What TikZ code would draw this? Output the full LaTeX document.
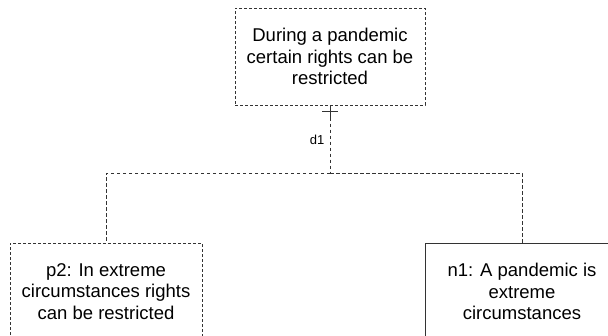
\documentclass[tikz,border=0pt]{standalone}
\usepackage{fontspec}
\setmainfont{Liberation Sans}
\begin{document}
\begin{tikzpicture}[x=1pt, y=-1pt,
  box/.style={draw=black!80, line width=1pt, align=center, minimum height=97pt, inner sep=0pt,
    font=\fontsize{18.5}{21.5}\selectfont},
  dotbox/.style={box, dash pattern=on 3pt off 2pt},
  link/.style={draw=black!80, line width=1pt, dash pattern=on 3.5pt off 2.5pt}]
 \clip (0,0) rectangle (608,335);

 \node[dotbox, minimum width=190pt] (claim) at (330,56.5) {During a pandemic\\certain rights can be\\restricted};
 \node[dotbox, minimum width=192pt] (p2) at (106,291.5) {p2: In extreme\\circumstances rights\\can be restricted};
 \node[box, minimum width=194pt] (n1) at (522,291.5) {n1: A pandemic is\\extreme\\circumstances};

 \coordinate (jn) at (330,173);
 \draw[link] (claim.south) -- (jn);
 \draw[link] (jn) -| (p2.north);
 \draw[link] (jn) -| (n1.north);
 \draw[black!80, line width=1pt] ([xshift=-8pt,yshift=-6pt]claim.south) -- ([xshift=8pt,yshift=-6pt]claim.south);
 \draw[black!80, line width=1pt] (claim.south) -- ([yshift=-14pt]claim.south);

 \node[font=\fontsize{13}{15}\selectfont] (d1) at (317,140) {d1};
\end{tikzpicture}
\end{document}
